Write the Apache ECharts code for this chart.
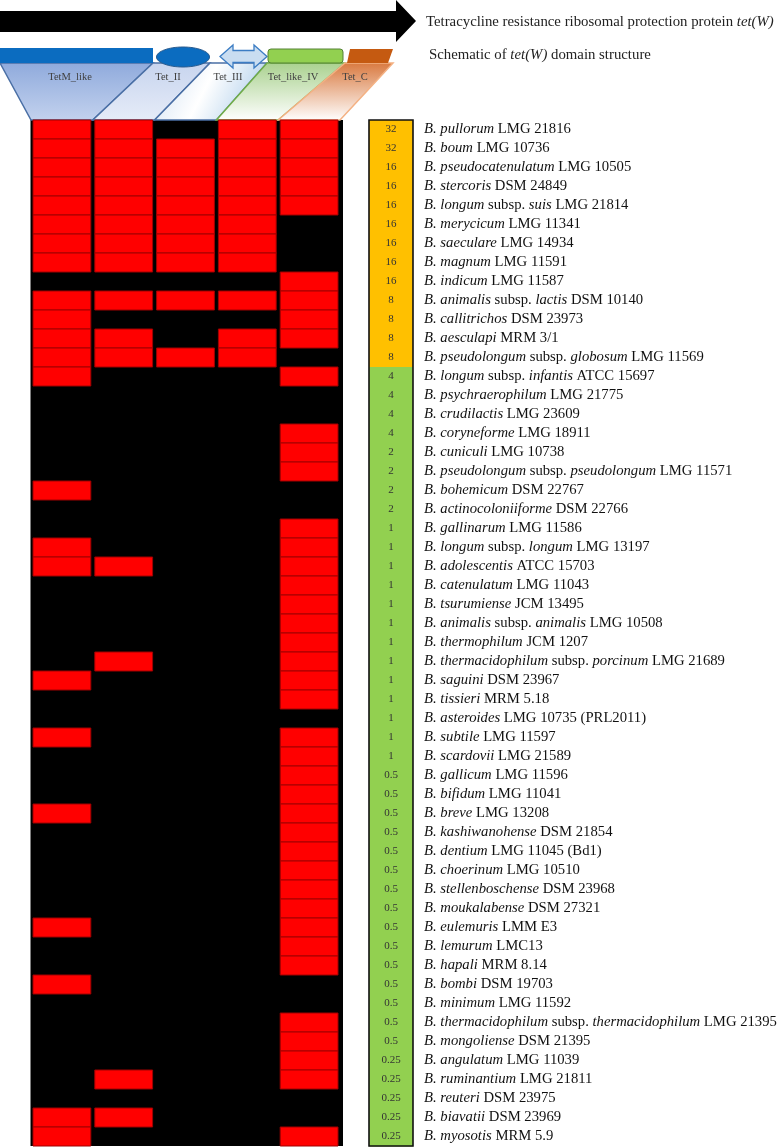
<!DOCTYPE html>
<html><head><meta charset="utf-8">
<script src="https://cdn.jsdelivr.net/npm/echarts@6/dist/echarts.min.js"></script>
<style>html,body{margin:0;padding:0;background:#fff}#c{width:780px;height:1148px}</style>
</head><body><div id="c"></div>
<script>
// ---- data ----
const domains = ['TetM_like', 'Tet_II', 'Tet_III', 'Tet_like_IV', 'Tet_C'];
const strains = [
  '_B. pullorum_ LMG 21816', '_B. boum_ LMG 10736', '_B. pseudocatenulatum_ LMG 10505',
  '_B. stercoris_ DSM 24849', '_B. longum_ subsp. _suis_ LMG 21814', '_B. merycicum_ LMG 11341',
  '_B. saeculare_ LMG 14934', '_B. magnum_ LMG 11591', '_B. indicum_ LMG 11587',
  '_B. animalis_ subsp. _lactis_ DSM 10140', '_B. callitrichos_ DSM 23973', '_B. aesculapi_ MRM 3/1',
  '_B. pseudolongum_ subsp. _globosum_ LMG 11569', '_B. longum_ subsp. _infantis_ ATCC 15697',
  '_B. psychraerophilum_ LMG 21775', '_B. crudilactis_ LMG 23609', '_B. coryneforme_ LMG 18911',
  '_B. cuniculi_ LMG 10738', '_B. pseudolongum_ subsp. _pseudolongum_ LMG 11571',
  '_B. bohemicum_ DSM 22767', '_B. actinocoloniiforme_ DSM 22766', '_B. gallinarum_ LMG 11586',
  '_B. longum_ subsp. _longum_ LMG 13197', '_B. adolescentis_ ATCC 15703', '_B. catenulatum_ LMG 11043',
  '_B. tsurumiense_ JCM 13495', '_B. animalis_ subsp. _animalis_ LMG 10508', '_B. thermophilum_ JCM 1207',
  '_B. thermacidophilum_ subsp. _porcinum_ LMG 21689', '_B. saguini_ DSM 23967', '_B. tissieri_ MRM 5.18',
  '_B. asteroides_ LMG 10735 (PRL2011)', '_B. subtile_ LMG 11597', '_B. scardovii_ LMG 21589',
  '_B. gallicum_ LMG 11596', '_B. bifidum_ LMG 11041', '_B. breve_ LMG 13208',
  '_B. kashiwanohense_ DSM 21854', '_B. dentium_ LMG 11045 (Bd1)', '_B. choerinum_ LMG 10510',
  '_B. stellenboschense_ DSM 23968', '_B. moukalabense_ DSM 27321', '_B. eulemuris_ LMM E3',
  '_B. lemurum_ LMC13', '_B. hapali_ MRM 8.14', '_B. bombi_ DSM 19703', '_B. minimum_ LMG 11592',
  '_B. thermacidophilum_ subsp. _thermacidophilum_ LMG 21395', '_B. mongoliense_ DSM 21395',
  '_B. angulatum_ LMG 11039', '_B. ruminantium_ LMG 21811', '_B. reuteri_ DSM 23975',
  '_B. biavatii_ DSM 23969', '_B. myosotis_ MRM 5.9'
];
const mic = [32, 32, 16, 16, 16, 16, 16, 16, 16, 8, 8, 8, 8, 4, 4, 4, 4, 2, 2, 2, 2,
  1, 1, 1, 1, 1, 1, 1, 1, 1, 1, 1, 1, 1,
  0.5, 0.5, 0.5, 0.5, 0.5, 0.5, 0.5, 0.5, 0.5, 0.5, 0.5, 0.5, 0.5, 0.5, 0.5,
  0.25, 0.25, 0.25, 0.25, 0.25];
// presence (1) / absence (0) of each domain, one entry per strain
const tetM_like = [1,1,1,1,1,1,1,1,0,1,1,1,1,1,0,0,0,0,0,1,0,0,1,1,0,0,0,0,0,1,0,0,1,0,0,0,1,0,0,0,0,0,1,0,0,1,0,0,0,0,0,0,1,1];
const tet_II    = [1,1,1,1,1,1,1,1,0,1,0,1,1,0,0,0,0,0,0,0,0,0,0,1,0,0,0,0,1,0,0,0,0,0,0,0,0,0,0,0,0,0,0,0,0,0,0,0,0,0,1,0,1,0];
const tet_III   = [0,1,1,1,1,1,1,1,0,1,0,0,1,0,0,0,0,0,0,0,0,0,0,0,0,0,0,0,0,0,0,0,0,0,0,0,0,0,0,0,0,0,0,0,0,0,0,0,0,0,0,0,0,0];
const tet_like_IV = [1,1,1,1,1,1,1,1,0,1,0,1,1,0,0,0,0,0,0,0,0,0,0,0,0,0,0,0,0,0,0,0,0,0,0,0,0,0,0,0,0,0,0,0,0,0,0,0,0,0,0,0,0,0];
const tet_C     = [1,1,1,1,1,0,0,0,1,1,1,1,0,1,0,0,1,1,1,0,0,1,1,1,1,1,1,1,1,1,1,0,1,1,1,1,1,1,1,1,1,1,1,1,1,0,0,1,1,1,1,0,0,1];

// ---- build ----
const presence = [tetM_like, tet_II, tet_III, tet_like_IV, tet_C];
const cells = [];
presence.forEach((col, i) => col.forEach((v, j) => { if (v) cells.push([i, j]); }));
const micData = mic.map((v, j) => [0, j, v]);

const SERIF = '"Liberation Serif", "DejaVu Serif", serif';
const G = { left: 31, top: 120, width: 309, height: 1026 };
const M = { left: 369, top: 120, width: 44, height: 1026 };

function richLabel(s) {
  return s.split('_').map((p, k) => p === '' ? '' : (k % 2 ? '{i|' + p + '}' : '{n|' + p + '}')).join('');
}

const colW = G.width / domains.length;
const botX = domains.map((d, i) => G.left + i * colW).concat([G.left + G.width]);
const topX = [0, 153, 210, 267, 345, 393];
const topY = 63, botY = G.top;
const lg = (a, b) => new echarts.graphic.LinearGradient(0, 0, 0, 1, [{offset: 0, color: a}, {offset: 1, color: b}]);
const trapFill = [
  lg('#8FAADC', '#C3D2EE'),
  lg('#C7D4EE', '#E6ECF8'),
  new echarts.graphic.LinearGradient(0, 0, 1, 1, [{offset: 0, color: '#CFE0F2'}, {offset: 0.45, color: '#FFFFFF'}, {offset: 1, color: '#9DC3E6'}]),
  lg('#A9D18E', '#FFFFFF'),
  lg('#D9793F', '#FFFFFF')
];
const trapStroke = ['#4A6FA5', '#4A6FA5', '#4A6FA5', '#70AD47', '#F4B183'];
const trapLabelX = [70, 168, 228, 293, 355];

const graphics = [];
// black background of heatmap
graphics.push({ type: 'rect', z: 0, shape: { x: 30.5, y: G.top, width: 312.5, height: G.height }, style: { fill: '#000' } });
// big arrow
graphics.push({ type: 'polygon', shape: { points: [[0, 11], [396, 11], [396, 0], [416, 21], [396, 42], [396, 32], [0, 32]] }, style: { fill: '#000' } });
graphics.push({ type: 'text', x: 426, y: 22, style: { text: '{n|Tetracycline resistance ribosomal protection protein }{i|tet(W)}', verticalAlign: 'middle',
  rich: { n: { fontFamily: SERIF, fontSize: 14.8, fill: '#222' }, i: { fontFamily: SERIF, fontSize: 14.8, fontStyle: 'italic', fill: '#222' } } } });
graphics.push({ type: 'text', x: 429, y: 55, style: { text: '{n|Schematic of }{i|tet(W)}{n| domain structure}', verticalAlign: 'middle',
  rich: { n: { fontFamily: SERIF, fontSize: 14.8, fill: '#222' }, i: { fontFamily: SERIF, fontSize: 14.8, fontStyle: 'italic', fill: '#222' } } } });
// trapezoids
domains.forEach((d, i) => {
  graphics.push({ type: 'polygon', shape: { points: [[topX[i], topY], [topX[i + 1], topY], [botX[i + 1], botY], [botX[i], botY]] },
    style: { fill: trapFill[i], stroke: trapStroke[i], lineWidth: 1.5 } });
  graphics.push({ type: 'text', x: trapLabelX[i], y: 77, style: { text: d, align: 'center', verticalAlign: 'middle', fontFamily: SERIF, fontSize: 10.5, fill: '#404040' } });
});
// domain glyphs
graphics.push({ type: 'rect', shape: { x: 0, y: 48, width: 153, height: 15 }, style: { fill: '#0B6CC0' } });
graphics.push({ type: 'ellipse', shape: { cx: 183, cy: 57, rx: 26.5, ry: 10 }, style: { fill: '#0B6CC0', stroke: '#2B5C8F', lineWidth: 1 } });
graphics.push({ type: 'polygon', shape: { points: [[220, 56.5], [233, 45], [233, 50.5], [254, 50.5], [254, 45], [267, 56.5], [254, 68], [254, 62.5], [233, 62.5], [233, 68]] },
  style: { fill: '#C9DDF1', stroke: '#3C7DC4', lineWidth: 1.3 } });
graphics.push({ type: 'rect', shape: { x: 268, y: 49, width: 75, height: 14, r: 3 }, style: { fill: '#92D050', stroke: '#548235', lineWidth: 1 } });
graphics.push({ type: 'polygon', shape: { points: [[350, 49], [393, 49], [388, 63], [347, 63]] }, style: { fill: '#C55A11' } });
// MIC box border
graphics.push({ type: 'rect', z: 10, shape: { x: M.left, y: M.top, width: M.width, height: M.height }, style: { fill: 'none', stroke: '#111', lineWidth: 1.6 } });

const option = {
  animation: false,
  backgroundColor: '#fff',
  grid: [
    { left: G.left, top: G.top, width: G.width, height: G.height, show: false, outerBoundsMode: 'none', containLabel: false },
    { left: M.left, top: M.top, width: M.width, height: M.height, show: false, outerBoundsMode: 'none', containLabel: false }
  ],
  xAxis: [
    { type: 'category', gridIndex: 0, data: domains, show: false },
    { type: 'category', gridIndex: 1, data: ['MIC'], show: false }
  ],
  yAxis: [
    { type: 'category', gridIndex: 0, data: strains, inverse: true, show: false },
    { type: 'category', gridIndex: 1, data: strains, inverse: true, position: 'right',
      axisLine: { show: false }, axisTick: { show: false },
      axisLabel: { interval: 0, margin: 11, align: 'left', formatter: v => richLabel(v),
        rich: { n: { fontFamily: SERIF, fontSize: 14.7, color: '#111' }, i: { fontFamily: SERIF, fontSize: 14.7, fontStyle: 'italic', color: '#111' } } } }
  ],
  graphic: graphics,
  series: [
    { type: 'custom', xAxisIndex: 0, yAxisIndex: 0, data: cells, z: 2,
      renderItem(params, api) {
        const c = api.coord([api.value(0), api.value(1)]);
        const s = api.size([1, 1]);
        return { type: 'rect', shape: { x: c[0] - s[0] / 2 + 2, y: c[1] - s[1] / 2, width: s[0] - 4, height: s[1] },
          style: { fill: '#FF0000', stroke: '#A00000', lineWidth: 1 } };
      } },
    { type: 'custom', xAxisIndex: 1, yAxisIndex: 1, data: micData, z: 2,
      renderItem(params, api) {
        const c = api.coord([api.value(0), api.value(1)]);
        const s = api.size([1, 1]);
        const v = api.value(2);
        return { type: 'group', children: [
          { type: 'rect', shape: { x: c[0] - s[0] / 2, y: c[1] - s[1] / 2, width: s[0], height: s[1] + 0.5 },
            style: { fill: v >= 8 ? '#FFC000' : '#92D050' } },
          { type: 'text', style: { text: String(v), x: c[0], y: c[1], align: 'center', verticalAlign: 'middle',
            fontFamily: SERIF, fontSize: 11, fill: '#333' } }
        ] };
      } }
  ]
};
echarts.init(document.getElementById('c'), null, { renderer: 'canvas' }).setOption(option);
</script></body></html>
